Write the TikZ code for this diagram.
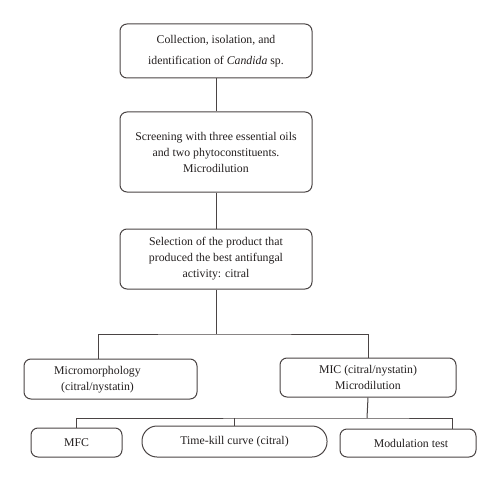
\documentclass[tikz,border=0pt]{standalone}
\usepackage{fontspec}
\setmainfont{Liberation Serif}
\definecolor{edgegray}{HTML}{4A4444}
\definecolor{inkgray}{HTML}{221E1E}
\tikzset{
  flowbox/.style={draw=edgegray, line width=1pt, rounded corners=7pt, align=center,
    text=inkgray, inner sep=0pt, font=\fontsize{11.8}{16}\selectfont},
  flowline/.style={draw=edgegray, line width=1pt}
}
\begin{document}
\begin{tikzpicture}[x=1pt, y=-1pt]
  \useasboundingbox (0,0) rectangle (500,481);
  \node[flowbox, minimum width=192pt, minimum height=54pt] (collect) at (216,51)
    {Collection, isolation, and\\[5pt] identification of \textit{Candida} sp.};
  \node[flowbox, minimum width=192pt, minimum height=80pt] (screen) at (216,152)
    {Screening with three essential oils\\ and two phytoconstituents.\\ Microdilution};
  \node[flowbox, minimum width=192pt, minimum height=60pt] (select) at (216,259)
    {Selection of the product that\\ produced the best antifungal\\ activity: citral};
  \node[flowbox, minimum width=173pt, minimum height=40pt] (micro) at (110.5,379)
    {\hspace*{-26pt}\begin{tabular}{@{}c@{}}Micromorphology\\ (citral/nystatin)\end{tabular}};
  \node[flowbox, minimum width=176pt, minimum height=39pt] (mic) at (368,377.5)
    {MIC (citral/nystatin)\\ Microdilution};
  \node[flowbox, minimum width=91pt, minimum height=29pt] (mfc) at (76.5,442.5) {MFC};
  \node[flowbox, rounded corners=15pt, minimum width=185pt, minimum height=31pt] (timekill) at (234.5,441.5)
    {Time-kill curve (citral)};
  \node[flowbox, minimum width=136pt, minimum height=28pt] (modul) at (408,443)
    {\hspace*{6pt}Modulation test};
  % junctions
  \coordinate (split) at (216,334);
  \coordinate (splitl) at (98,334);
  \coordinate (fork) at (367,418);
  \coordinate (forkr) at (452,418);
  \draw[flowline] (collect) -- (screen);
  \draw[flowline] (screen) -- (select);
  \draw[flowline] (select) -- (split);
  \draw[flowline] (splitl |- micro.north) -- (splitl) -- (split) -| (mic.north);
  \draw[flowline] (mic.south) -- (fork);
  \draw[flowline] (mfc.north) |- (fork) -- (forkr) -- (forkr |- modul.north);
  \draw[flowline] (timekill.north) -- (timekill.north |- fork);
\end{tikzpicture}
\end{document}
